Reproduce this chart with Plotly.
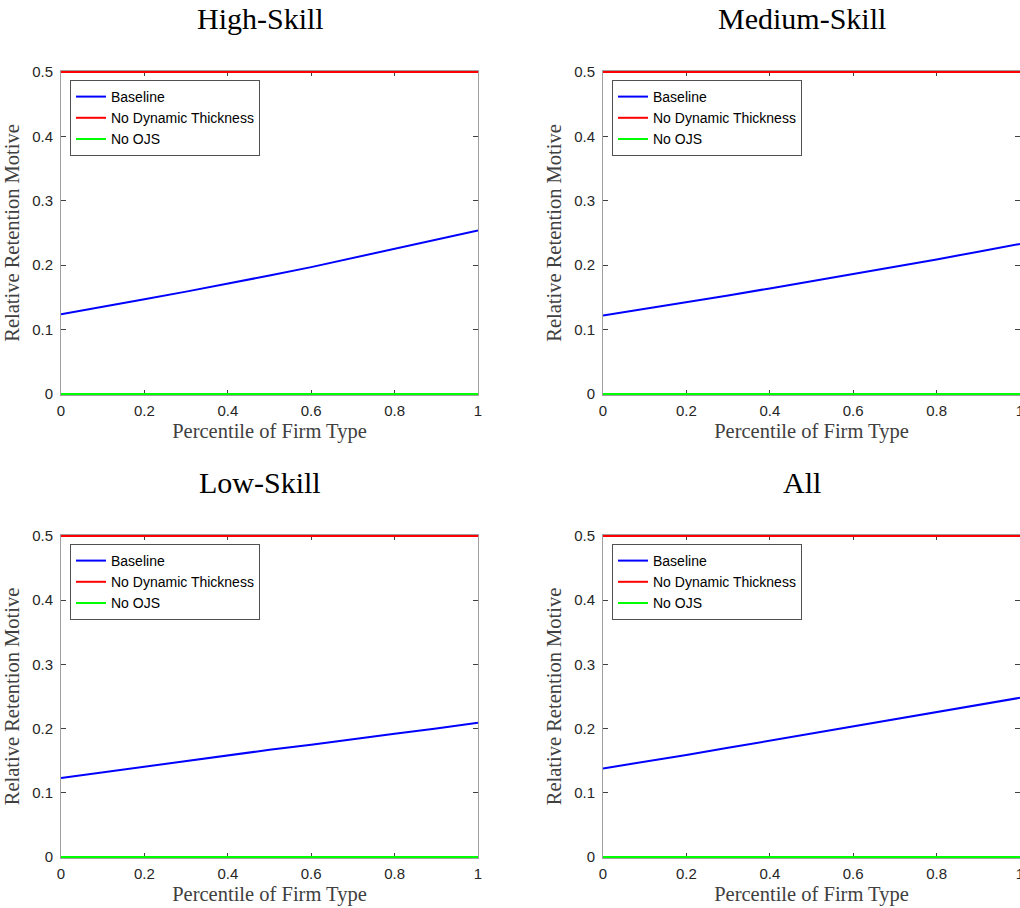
import plotly.graph_objects as go

# ---- data ----
percentile = [0.0, 0.1, 0.2, 0.3, 0.4, 0.5, 0.6, 0.7, 0.8, 0.9, 1.0]
panel_titles = ["High-Skill", "Medium-Skill", "Low-Skill", "All"]
baseline_high = [0.124, 0.135, 0.147, 0.159, 0.171, 0.184, 0.197, 0.211, 0.225, 0.240, 0.254]
baseline_medium = [0.122, 0.132, 0.142, 0.153, 0.164, 0.175, 0.186, 0.197, 0.209, 0.221, 0.233]
baseline_low = [0.123, 0.132, 0.141, 0.150, 0.158, 0.167, 0.175, 0.184, 0.192, 0.200, 0.209]
baseline_all = [0.138, 0.148, 0.159, 0.170, 0.181, 0.192, 0.203, 0.214, 0.225, 0.237, 0.248]
no_dyn_thickness = [0.5] * len(percentile)
no_ojs = [0.0] * len(percentile)
series_names = ["Baseline", "No Dynamic Thickness", "No OJS"]
series_colors = ["#0000ff", "#ff0000", "#00ff00"]
x_ticks = [0, 0.2, 0.4, 0.6, 0.8, 1]
x_ticklabels = ["0", "0.2", "0.4", "0.6", "0.8", "1"]
y_ticks = [0, 0.1, 0.2, 0.3, 0.4, 0.5]
y_ticklabels = ["0", "0.1", "0.2", "0.3", "0.4", "0.5"]
x_label = "Percentile of Firm Type"
y_label = "Relative Retention Motive"

W, H = 1020, 908
# pixel boxes of each axes (left, right, top, bottom)
boxes = [(61, 478, 71, 395), (603, 1020, 71, 395), (61, 478, 535, 858), (603, 1020, 535, 858)]
baselines = [baseline_high, baseline_medium, baseline_low, baseline_all]

fig = go.Figure()
SERIF = "Liberation Serif, Times New Roman, serif"
SANS = "Liberation Sans, Arial, sans-serif"

for i, (title, base, box) in enumerate(zip(panel_titles, baselines, boxes)):
    xa = "x" if i == 0 else f"x{i+1}"
    ya = "y" if i == 0 else f"y{i+1}"
    leg = "legend" if i == 0 else f"legend{i+1}"
    for name, vals, col in zip(series_names, [base, no_dyn_thickness, no_ojs], series_colors):
        fig.add_trace(go.Scatter(x=percentile, y=vals, mode="lines", name=name,
                                 line=dict(color=col, width=2), xaxis=xa, yaxis=ya,
                                 legend=leg))
    l, r, t, b = box
    xd = [l / W, r / W]
    yd = [1 - b / H, 1 - t / H]
    pad_y = 1.0 * 0.5 / (b - t)  # keep the 0 and 0.5 lines visible inside the clip area
    axis_common = dict(showline=True, linecolor="#a0a0a0", linewidth=1, mirror="ticks",
                       ticks="inside", ticklen=5, tickcolor="#404040", showgrid=False,
                       zeroline=False, automargin=False, layer="below traces",
                       ticklabeloverflow="allow",
                       tickfont=dict(family=SANS, size=15, color="#262626"))
    fig.layout[f"xaxis{'' if i == 0 else i+1}"] = dict(
        domain=xd, range=[0, 1], tickvals=x_ticks, ticktext=x_ticklabels,
        anchor=ya, ticklabelstandoff=2,
        title=dict(text=x_label, font=dict(family=SERIF, size=20.5, color="#404040"), standoff=5),
        **axis_common)
    fig.layout[f"yaxis{'' if i == 0 else i+1}"] = dict(
        domain=yd, range=[-pad_y, 0.5 + pad_y], tickvals=y_ticks, ticktext=y_ticklabels,
        anchor=xa, ticklabelstandoff=4,
        title=dict(text=y_label, font=dict(family=SERIF, size=20.5, color="#404040"), standoff=6),
        **axis_common)
    fig.add_annotation(text=title, x=((l + r) / 2 - 9.5) / W, y=1 - (t - 52.5) / H,
                       xref="paper", yref="paper",
                       xanchor="center", yanchor="middle", showarrow=False,
                       font=dict(family=SERIF, size=30, color="#000000"))
    fig.layout[leg] = dict(x=(l + 9) / W, y=1 - (t + 9) / H, xanchor="left", yanchor="top",
                           bgcolor="white", bordercolor="#505050", borderwidth=1,
                           font=dict(family=SANS, size=14, color="#000000"),
                           tracegroupgap=0, itemwidth=30)

fig.update_layout(template="none", width=W, height=H, margin=dict(l=0, r=0, t=0, b=0, pad=0),
                  paper_bgcolor="white", plot_bgcolor="white", showlegend=True)

# remove the default 8px page margin so the figure fills the window exactly
fig.write_html("out.html", config={"displayModeBar": False},
               post_script="document.body.style.margin='0';")
